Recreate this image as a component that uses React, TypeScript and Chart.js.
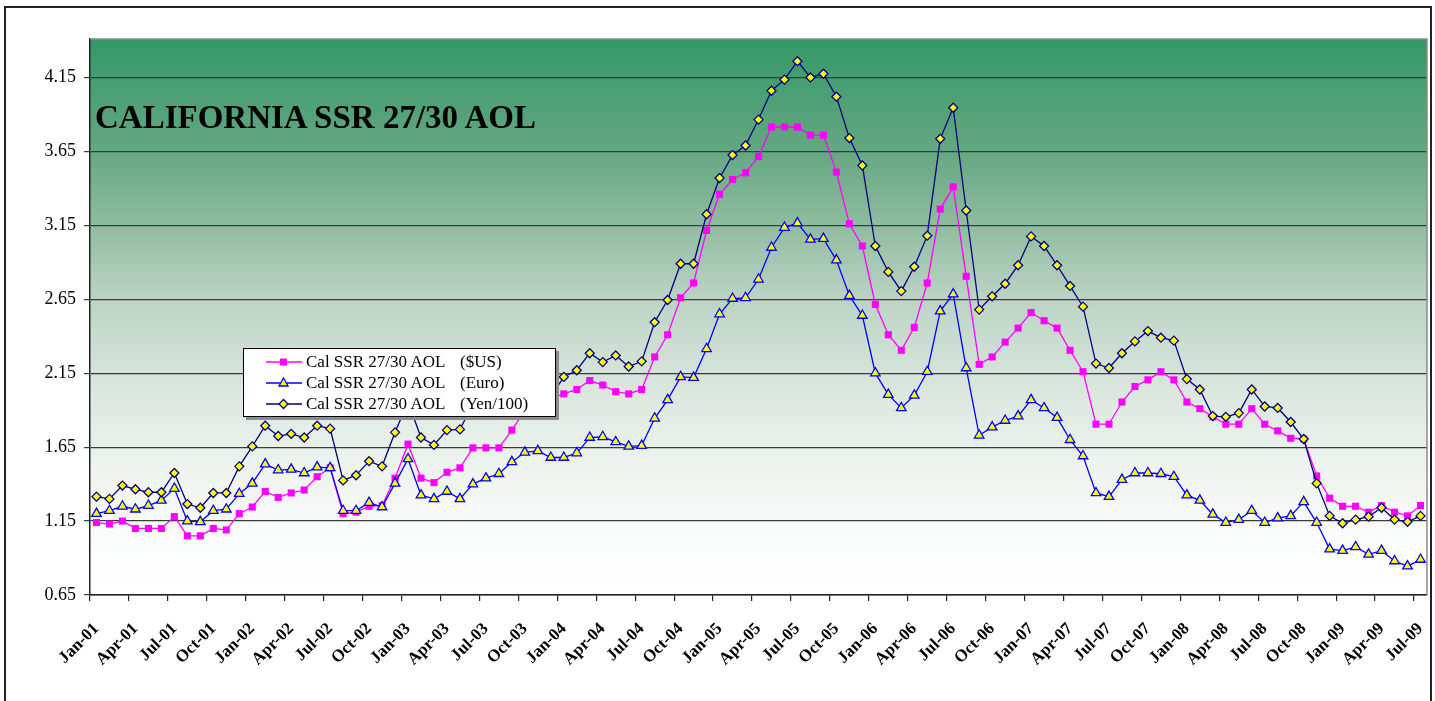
import React, { useEffect, useRef } from 'react';
import { Chart, registerables } from 'chart.js';

Chart.register(...registerables);

const MONTHS = ['Jan', 'Feb', 'Mar', 'Apr', 'May', 'Jun', 'Jul', 'Aug', 'Sep', 'Oct', 'Nov', 'Dec'];
const YEARS = ['01', '02', '03', '04', '05', '06', '07', '08', '09'];
const MONTH_COUNT = 103; // Jan-01 .. Jul-09
const CATEGORIES: string[] = [];
for (const yr of YEARS) for (const m of MONTHS) CATEGORIES.push(`${m}-${yr}`);
CATEGORIES.length = MONTH_COUNT;

const Y_TICKS = [0.65, 1.15, 1.65, 2.15, 2.65, 3.15, 3.65, 4.15];

const USD = [
  1.14, 1.13, 1.15, 1.10, 1.10, 1.10, 1.18, 1.05, 1.05, 1.10, 1.09, 1.20,
  1.245, 1.35, 1.31, 1.34, 1.36, 1.45, 1.51, 1.20, 1.21, 1.25, 1.255, 1.44,
  1.67, 1.44, 1.41, 1.48, 1.51, 1.645, 1.645, 1.645, 1.765, 1.90, 1.95, 1.98,
  2.01, 2.04, 2.10, 2.07, 2.025, 2.01, 2.04, 2.26, 2.41, 2.66, 2.76, 3.115,
  3.36, 3.46, 3.505, 3.615, 3.815, 3.815, 3.815, 3.76, 3.76, 3.51, 3.16, 3.01,
  2.615, 2.41, 2.305, 2.46, 2.76, 3.26, 3.41, 2.805, 2.21, 2.26, 2.36, 2.455,
  2.56, 2.505, 2.455, 2.305, 2.16, 1.805, 1.805, 1.955, 2.06, 2.105, 2.16, 2.105,
  1.955, 1.91, 1.855, 1.805, 1.805, 1.91, 1.805, 1.76, 1.71, 1.705, 1.455, 1.305,
  1.25, 1.25, 1.21, 1.255, 1.21, 1.185, 1.255,
];

const EURO = [
  1.20, 1.22, 1.25, 1.23, 1.255, 1.29, 1.37, 1.15, 1.145, 1.22, 1.23, 1.335,
  1.405, 1.535, 1.495, 1.50, 1.475, 1.515, 1.51, 1.22, 1.22, 1.275, 1.245, 1.405,
  1.57, 1.325, 1.30, 1.35, 1.30, 1.40, 1.44, 1.47, 1.55, 1.615, 1.625, 1.58,
  1.58, 1.61, 1.715, 1.72, 1.685, 1.655, 1.66, 1.845, 1.97, 2.125, 2.12, 2.315,
  2.55, 2.655, 2.66, 2.785, 3.00, 3.135, 3.165, 3.055, 3.06, 2.915, 2.675, 2.54,
  2.15, 2.005, 1.915, 2.00, 2.16, 2.57, 2.685, 2.185, 1.73, 1.785, 1.83, 1.86,
  1.97, 1.915, 1.85, 1.70, 1.59, 1.34, 1.315, 1.43, 1.475, 1.475, 1.47, 1.45,
  1.325, 1.29, 1.195, 1.14, 1.16, 1.22, 1.14, 1.17, 1.185, 1.28, 1.14, 0.96,
  0.95, 0.975, 0.925, 0.95, 0.88, 0.845, 0.89,
];

const YEN = [
  1.315, 1.30, 1.39, 1.365, 1.345, 1.345, 1.475, 1.265, 1.24, 1.34, 1.34, 1.52,
  1.655, 1.795, 1.725, 1.74, 1.715, 1.795, 1.775, 1.425, 1.46, 1.555, 1.52, 1.75,
  1.955, 1.715, 1.665, 1.765, 1.77, 1.94, 1.95, 1.96, 2.02, 2.07, 2.08, 1.99,
  2.125, 2.17, 2.285, 2.225, 2.27, 2.195, 2.23, 2.495, 2.645, 2.89, 2.89, 3.225,
  3.47, 3.625, 3.69, 3.865, 4.06, 4.135, 4.26, 4.15, 4.175, 4.02, 3.74, 3.555,
  3.01, 2.835, 2.705, 2.87, 3.08, 3.735, 3.945, 3.25, 2.58, 2.67, 2.755, 2.88,
  3.075, 3.01, 2.88, 2.74, 2.60, 2.215, 2.185, 2.285, 2.365, 2.435, 2.39, 2.37,
  2.11, 2.04, 1.86, 1.855, 1.88, 2.04, 1.925, 1.915, 1.82, 1.705, 1.405, 1.185,
  1.135, 1.16, 1.18, 1.24, 1.16, 1.145, 1.185,
];

const SERIES_NAMES = ['Cal SSR 27/30 AOL', 'Cal SSR 27/30 AOL', 'Cal SSR 27/30 AOL'];
const SERIES_UNITS = ['($US)', '(Euro)', '(Yen/100)'];
const TITLE = 'CALIFORNIA SSR 27/30 AOL';

const PINK = '#ff00ff';
const BLUE = '#0000ff';
const NAVY = '#000080';
const YELLOW = '#ffff00';

const bgPlugin = {
  id: 'bgGradient',
  beforeDraw(chart: any) {
    const { ctx, chartArea } = chart;
    if (!chartArea) return;
    const { left, top, right, bottom } = chartArea;
    const g = ctx.createLinearGradient(0, top, 0, bottom);
    g.addColorStop(0, 'rgb(52,152,105)');
    g.addColorStop(0.2, 'rgb(100,167,129)');
    g.addColorStop(0.33, 'rgb(142,187,158)');
    g.addColorStop(0.465, 'rgb(187,211,196)');
    g.addColorStop(0.6, 'rgb(213,227,218)');
    g.addColorStop(0.735, 'rgb(234,241,236)');
    g.addColorStop(0.87, 'rgb(248,250,249)');
    g.addColorStop(1, 'rgb(255,255,255)');
    ctx.save();
    ctx.fillStyle = g;
    ctx.fillRect(left, top, right - left, bottom - top);
    ctx.restore();
  },
  afterDraw(chart: any) {
    const { ctx, chartArea } = chart;
    const { left, top, right, bottom } = chartArea;
    ctx.save();
    ctx.strokeStyle = '#8a8a8a';
    ctx.lineWidth = 1.5;
    ctx.beginPath();
    ctx.moveTo(left, top);
    ctx.lineTo(right, top);
    ctx.lineTo(right, bottom);
    ctx.stroke();
    ctx.restore();
  },
};

function Sample({ kind }: { kind: number }) {
  const color = kind === 0 ? PINK : kind === 1 ? BLUE : NAVY;
  return (
    <svg width={36} height={14} style={{ display: 'block' }}>
      <line x1={0} y1={7} x2={36} y2={7} stroke={color} strokeWidth={1.3} />
      {kind === 0 && <rect x={14} y={3.5} width={7} height={7} fill={PINK} />}
      {kind === 1 && (
        <polygon points="17.5,2 22,10 13,10" fill={YELLOW} stroke={BLUE} strokeWidth={1.3} />
      )}
      {kind === 2 && (
        <polygon points="17.5,2.5 22,7 17.5,11.5 13,7" fill={YELLOW} stroke={NAVY} strokeWidth={1.3} />
      )}
    </svg>
  );
}

export default function App() {
  const canvasRef = useRef<HTMLCanvasElement | null>(null);

  useEffect(() => {
    if (!canvasRef.current) return;
    const chart = new Chart(canvasRef.current, {
      type: 'line',
      data: {
        labels: CATEGORIES,
        datasets: [
          {
            label: `${SERIES_NAMES[0]} ${SERIES_UNITS[0]}`,
            data: USD,
            borderColor: PINK,
            backgroundColor: PINK,
            pointBackgroundColor: PINK,
            pointBorderColor: PINK,
            pointStyle: 'rect',
            pointRadius: 5,
            pointBorderWidth: 0,
            borderWidth: 1.3,
            tension: 0,
            order: 2,
          },
          {
            label: `${SERIES_NAMES[1]} ${SERIES_UNITS[1]}`,
            data: EURO,
            borderColor: BLUE,
            backgroundColor: YELLOW,
            pointBackgroundColor: YELLOW,
            pointBorderColor: BLUE,
            pointStyle: 'triangle',
            pointRadius: 5.5,
            pointBorderWidth: 1.3,
            borderWidth: 1.3,
            tension: 0,
            order: 1,
          },
          {
            label: `${SERIES_NAMES[2]} ${SERIES_UNITS[2]}`,
            data: YEN,
            borderColor: NAVY,
            backgroundColor: YELLOW,
            pointBackgroundColor: YELLOW,
            pointBorderColor: NAVY,
            pointStyle: 'rectRot',
            pointRadius: 4.5,
            pointBorderWidth: 1.3,
            borderWidth: 1.3,
            tension: 0,
            order: 0,
          },
        ],
      },
      options: {
        animation: false,
        responsive: false,
        maintainAspectRatio: false,
        events: [],
        layout: { padding: { left: 0, top: 39, right: 8, bottom: 0 } },
        plugins: {
          legend: { display: false },
          tooltip: { enabled: false },
          title: { display: false },
        },
        scales: {
          x: {
            type: 'category',
            offset: true,
            afterFit(scale: any) {
              scale.height = 106;
              scale.paddingLeft = 0;
              scale.paddingRight = 0;
            },
            grid: {
              offset: true,
              drawOnChartArea: false,
              drawTicks: true,
              tickLength: 6,
              lineWidth: 1.2,
              color: (ctx: any) => (ctx.index % 3 === 0 ? '#222' : 'rgba(0,0,0,0)'),
            },
            border: { display: true, color: '#222', width: 1.5 },
            ticks: {
              autoSkip: false,
              maxRotation: 45,
              minRotation: 45,
              padding: 18,
              color: '#000',
              font: { family: '"Liberation Serif", serif', size: 17, weight: 'bold' },
              callback: (_v: any, idx: number) => (idx % 3 === 0 ? CATEGORIES[idx] : ''),
            },
          },
          y: {
            type: 'linear',
            min: 0.65,
            max: 4.41,
            afterFit(scale: any) {
              scale.width = 90;
            },
            afterBuildTicks(scale: any) {
              scale.ticks = Y_TICKS.map((v) => ({ value: v }));
            },
            grid: {
              color: '#3a3a3a',
              lineWidth: 1.2,
              drawTicks: true,
              tickLength: 6,
            },
            border: { display: true, color: '#222', width: 1.5 },
            ticks: {
              padding: 8,
              color: '#000',
              font: { family: '"Liberation Serif", serif', size: 18 },
              callback: (v: any) => Number(v).toFixed(2),
            },
          },
        },
      },
      plugins: [bgPlugin],
    } as any);
    return () => chart.destroy();
  }, []);

  return (
    <div>
      <div style={{ position: 'fixed', left: 0, top: 0, width: 1435, height: 701, background: '#fff' }}>
        <canvas ref={canvasRef} width={1435} height={701} style={{ width: 1435, height: 701, display: 'block' }} />
      </div>
      <div
        style={{
          position: 'fixed',
          left: 4,
          top: 6,
          width: 1424,
          height: 720,
          border: '2px solid #222',
          pointerEvents: 'none',
        }}
      />
      <div
        style={{
          position: 'fixed',
          left: 95,
          top: 101,
          fontFamily: '"Liberation Serif", serif',
          fontWeight: 'bold',
          fontSize: 33,
          lineHeight: '33px',
          color: '#000',
          whiteSpace: 'nowrap',
        }}
      >
        {TITLE}
      </div>
      <div
        style={{
          position: 'fixed',
          left: 243,
          top: 348,
          width: 311,
          height: 67,
          background: '#fff',
          border: '1px solid #000',
          boxShadow: '3px 3px 0 #8c8c8c',
          fontFamily: '"Liberation Serif", serif',
          fontSize: 17,
          color: '#000',
        }}
      >
        {SERIES_UNITS.map((u, i) => (
          <div
            key={i}
            style={{ position: 'absolute', left: 0, top: 3 + i * 20.8, height: 20, width: 311, whiteSpace: 'nowrap' }}
          >
            <div style={{ position: 'absolute', left: 22, top: 3 }}>
              <Sample kind={i} />
            </div>
            <span style={{ position: 'absolute', left: 62, top: 0, lineHeight: '20px' }}>{SERIES_NAMES[i]}</span>
            <span style={{ position: 'absolute', left: 216, top: 0, lineHeight: '20px' }}>{u}</span>
          </div>
        ))}
      </div>
    </div>
  );
}
